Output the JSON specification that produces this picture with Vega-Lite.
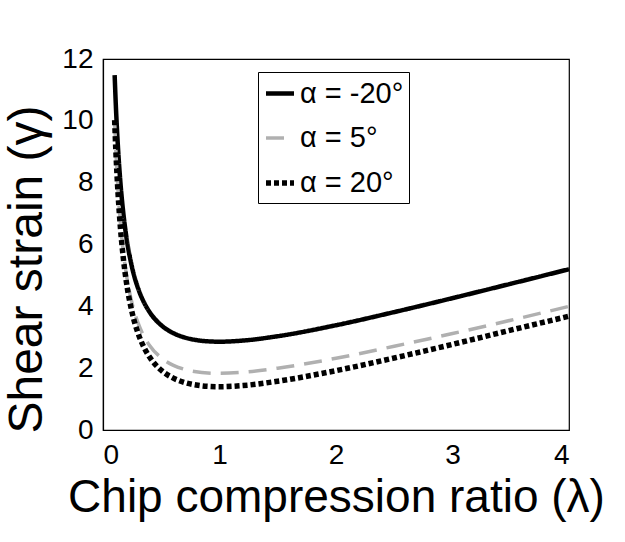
{
  "$schema": "https://vega.github.io/schema/vega-lite/v6.json",
  "autosize": {"type": "none"},
  "width": 466,
  "height": 371,
  "padding": {"left": 103, "top": 59, "right": 56, "bottom": 112},
  "background": "white",
  "config": {
    "font": "Liberation Sans",
    "view": {"stroke": "black", "strokeWidth": 1.2},
    "axis": {
      "domainColor": "black",
      "domainWidth": 1.2,
      "tickColor": "black",
      "labelColor": "black",
      "titleColor": "black",
      "labelFont": "Liberation Sans",
      "titleFont": "Liberation Sans",
      "titleFontWeight": "normal",
      "grid": false,
      "ticks": false
    }
  },
  "data": {
    "values": [
      {"lambda": 0.1, "gamma": 11.476, "alpha": "α = -20°"},
      {"lambda": 0.11, "gamma": 10.519, "alpha": "α = -20°"},
      {"lambda": 0.12, "gamma": 9.724, "alpha": "α = -20°"},
      {"lambda": 0.13, "gamma": 9.052, "alpha": "α = -20°"},
      {"lambda": 0.15, "gamma": 7.982, "alpha": "α = -20°"},
      {"lambda": 0.175, "gamma": 6.995, "alpha": "α = -20°"},
      {"lambda": 0.2, "gamma": 6.262, "alpha": "α = -20°"},
      {"lambda": 0.25, "gamma": 5.251, "alpha": "α = -20°"},
      {"lambda": 0.3, "gamma": 4.594, "alpha": "α = -20°"},
      {"lambda": 0.35, "gamma": 4.141, "alpha": "α = -20°"},
      {"lambda": 0.4, "gamma": 3.814, "alpha": "α = -20°"},
      {"lambda": 0.5, "gamma": 3.388, "alpha": "α = -20°"},
      {"lambda": 0.6, "gamma": 3.14, "alpha": "α = -20°"},
      {"lambda": 0.7, "gamma": 2.993, "alpha": "α = -20°"},
      {"lambda": 0.8, "gamma": 2.909, "alpha": "α = -20°"},
      {"lambda": 0.9, "gamma": 2.868, "alpha": "α = -20°"},
      {"lambda": 1.0, "gamma": 2.856, "alpha": "α = -20°"},
      {"lambda": 1.2, "gamma": 2.892, "alpha": "α = -20°"},
      {"lambda": 1.5, "gamma": 3.034, "alpha": "α = -20°"},
      {"lambda": 2.0, "gamma": 3.388, "alpha": "α = -20°"},
      {"lambda": 2.5, "gamma": 3.814, "alpha": "α = -20°"},
      {"lambda": 3.0, "gamma": 4.265, "alpha": "α = -20°"},
      {"lambda": 3.5, "gamma": 4.73, "alpha": "α = -20°"},
      {"lambda": 4.0, "gamma": 5.2, "alpha": "α = -20°"},
      {"lambda": 0.1, "gamma": 9.964, "alpha": "α = 5°"},
      {"lambda": 0.11, "gamma": 9.061, "alpha": "α = 5°"},
      {"lambda": 0.12, "gamma": 8.311, "alpha": "α = 5°"},
      {"lambda": 0.13, "gamma": 7.677, "alpha": "α = 5°"},
      {"lambda": 0.15, "gamma": 6.668, "alpha": "α = 5°"},
      {"lambda": 0.175, "gamma": 5.737, "alpha": "α = 5°"},
      {"lambda": 0.2, "gamma": 5.045, "alpha": "α = 5°"},
      {"lambda": 0.25, "gamma": 4.091, "alpha": "α = 5°"},
      {"lambda": 0.3, "gamma": 3.472, "alpha": "α = 5°"},
      {"lambda": 0.35, "gamma": 3.044, "alpha": "α = 5°"},
      {"lambda": 0.4, "gamma": 2.736, "alpha": "α = 5°"},
      {"lambda": 0.5, "gamma": 2.335, "alpha": "α = 5°"},
      {"lambda": 0.6, "gamma": 2.1, "alpha": "α = 5°"},
      {"lambda": 0.7, "gamma": 1.962, "alpha": "α = 5°"},
      {"lambda": 0.8, "gamma": 1.883, "alpha": "α = 5°"},
      {"lambda": 0.9, "gamma": 1.844, "alpha": "α = 5°"},
      {"lambda": 1.0, "gamma": 1.833, "alpha": "α = 5°"},
      {"lambda": 1.2, "gamma": 1.866, "alpha": "α = 5°"},
      {"lambda": 1.5, "gamma": 2.0, "alpha": "α = 5°"},
      {"lambda": 2.0, "gamma": 2.32, "alpha": "α = 5°"},
      {"lambda": 2.5, "gamma": 2.71, "alpha": "α = 5°"},
      {"lambda": 3.0, "gamma": 3.12, "alpha": "α = 5°"},
      {"lambda": 3.5, "gamma": 3.55, "alpha": "α = 5°"},
      {"lambda": 4.0, "gamma": 4.0, "alpha": "α = 5°"},
      {"lambda": 0.1, "gamma": 10.02, "alpha": "α = 20°"},
      {"lambda": 0.11, "gamma": 9.063, "alpha": "α = 20°"},
      {"lambda": 0.12, "gamma": 8.268, "alpha": "α = 20°"},
      {"lambda": 0.13, "gamma": 7.596, "alpha": "α = 20°"},
      {"lambda": 0.15, "gamma": 6.526, "alpha": "α = 20°"},
      {"lambda": 0.175, "gamma": 5.539, "alpha": "α = 20°"},
      {"lambda": 0.2, "gamma": 4.806, "alpha": "α = 20°"},
      {"lambda": 0.25, "gamma": 3.795, "alpha": "α = 20°"},
      {"lambda": 0.3, "gamma": 3.139, "alpha": "α = 20°"},
      {"lambda": 0.35, "gamma": 2.685, "alpha": "α = 20°"},
      {"lambda": 0.4, "gamma": 2.358, "alpha": "α = 20°"},
      {"lambda": 0.5, "gamma": 1.932, "alpha": "α = 20°"},
      {"lambda": 0.6, "gamma": 1.684, "alpha": "α = 20°"},
      {"lambda": 0.7, "gamma": 1.537, "alpha": "α = 20°"},
      {"lambda": 0.8, "gamma": 1.454, "alpha": "α = 20°"},
      {"lambda": 0.9, "gamma": 1.412, "alpha": "α = 20°"},
      {"lambda": 1.0, "gamma": 1.4, "alpha": "α = 20°"},
      {"lambda": 1.2, "gamma": 1.436, "alpha": "α = 20°"},
      {"lambda": 1.5, "gamma": 1.578, "alpha": "α = 20°"},
      {"lambda": 2.0, "gamma": 1.92, "alpha": "α = 20°"},
      {"lambda": 2.5, "gamma": 2.33, "alpha": "α = 20°"},
      {"lambda": 3.0, "gamma": 2.77, "alpha": "α = 20°"},
      {"lambda": 3.5, "gamma": 3.23, "alpha": "α = 20°"},
      {"lambda": 4.0, "gamma": 3.68, "alpha": "α = 20°"}
    ]
  },
  "mark": {"type": "line", "interpolate": "monotone", "clip": true, "strokeCap": "butt"},
  "encoding": {
    "x": {
      "field": "lambda",
      "type": "quantitative",
      "scale": {"domain": [0, 4], "nice": false},
      "axis": {"values": [0, 1, 2, 3, 4], "format": "d", "title": "Chip compression ratio (λ)", "labelFontSize": 28, "titleFontSize": 46, "labelPadding": 11, "titlePadding": 6}
    },
    "y": {
      "field": "gamma",
      "type": "quantitative",
      "scale": {"domain": [0, 12], "nice": false},
      "axis": {"values": [0, 2, 4, 6, 8, 10, 12], "format": "d", "title": "Shear strain (γ)", "labelFontSize": 28, "titleFontSize": 48, "labelPadding": 10, "titlePadding": 10, "titleY": 210}
    },
    "color": {
      "field": "alpha",
      "type": "nominal",
      "title": null,
      "sort": ["α = -20°", "α = 5°", "α = 20°"],
      "scale": {"domain": ["α = -20°", "α = 5°", "α = 20°"], "range": ["#000000", "#b0b0b0", "#000000"]},
      "legend": {
        "orient": "none",
        "legendX": 155,
        "legendY": 13,
        "strokeColor": "black",
        "fillColor": "white",
        "padding": 5,
        "symbolType": "stroke",
        "symbolSize": 784,
        "labelFontSize": 29,
        "labelColor": "black",
        "labelFont": "Liberation Sans",
        "labelOffset": 3,
        "rowPadding": 13
      }
    },
    "strokeDash": {
      "field": "alpha",
      "type": "nominal",
      "title": null,
      "sort": ["α = -20°", "α = 5°", "α = 20°"],
      "scale": {"domain": ["α = -20°", "α = 5°", "α = 20°"], "range": [[1, 0], [18, 10], [5, 3]]}
    },
    "strokeWidth": {
      "field": "alpha",
      "type": "nominal",
      "title": null,
      "sort": ["α = -20°", "α = 5°", "α = 20°"],
      "scale": {"type": "ordinal", "domain": ["α = -20°", "α = 5°", "α = 20°"], "range": [4.5, 3.5, 5.5]}
    }
  }
}
